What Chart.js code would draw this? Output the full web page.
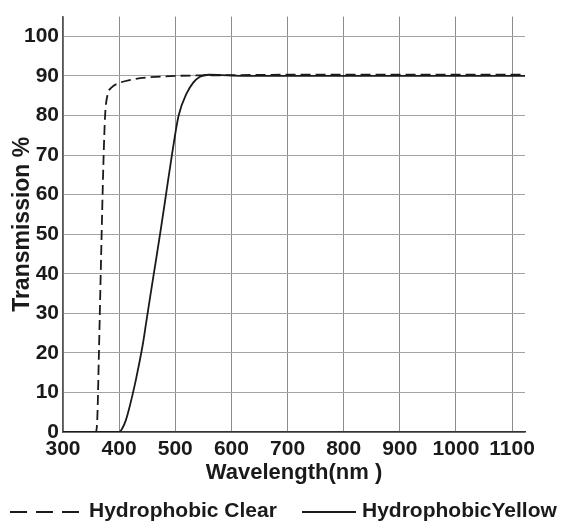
<!DOCTYPE html>
<html>
<head>
<meta charset="utf-8">
<title>Transmission</title>
<script src="https://cdn.jsdelivr.net/npm/chart.js@4.4.0/dist/chart.umd.min.js"></script>
<style>
    html, body { margin: 0; padding: 0; background: #fff; }
    #wrap { width: 566px; height: 523px; }
</style>
</head>
<body>
<div id="wrap"><canvas id="chart" width="566" height="523"></canvas></div>
<script>
// values (wavelength in nm, transmission in %)
const clearWavelength = [300, 358, 361, 364, 368, 372, 375, 379, 386, 400, 420, 450, 500, 600, 700, 900, 1123];
const clearTransmission = [0, 0, 3, 20, 45, 68, 80, 85, 87, 88.2, 89, 89.6, 90, 90.2, 90.3, 90.3, 90.3];

const yellowWavelength = [300, 400, 406, 412, 418, 424, 430, 436, 442, 448, 454, 464, 474, 484, 494, 506, 520, 532, 544, 560, 600, 700, 800, 900, 1000, 1123];
const yellowTransmission = [0, 0, 1, 3, 6, 9.5, 13.3, 17.5, 22, 27.5, 33, 42, 51, 60.5, 70, 80, 85.5, 88.3, 89.8, 90.3, 90.1, 90, 90, 90, 90, 90];

const xTicks = [300, 400, 500, 600, 700, 800, 900, 1000, 1100];
const yTicks = [0, 10, 20, 30, 40, 50, 60, 70, 80, 90, 100];

const FONT = "'Liberation Sans', Arial, sans-serif";
const INK = '#1a1a1a';

function toPoints(xs, ys) {
    return xs.map((x, i) => ({ x: x, y: ys[i] }));
}

// legend drawn under the axis title, dashed / solid line samples like the original
const lineLegend = {
    id: 'lineLegend',
    afterDraw(chart) {
        const ctx = chart.ctx;
        const y = 512;
        const slots = [
            { x1: 10, x2: 80, tx: 89 },
            { x1: 302, x2: 356, tx: 362 }
        ];
        ctx.save();
        chart.data.datasets.forEach((ds, i) => {
            const s = slots[i];
            ctx.strokeStyle = ds.borderColor;
            ctx.lineWidth = 2;
            ctx.setLineDash(i === 0 ? [17, 9] : []);
            ctx.beginPath();
            ctx.moveTo(s.x1, y);
            ctx.lineTo(s.x2, y);
            ctx.stroke();
            ctx.setLineDash([]);
            ctx.fillStyle = INK;
            ctx.font = 'bold 21px ' + FONT;
            ctx.textBaseline = 'middle';
            ctx.textAlign = 'left';
            ctx.fillText(ds.label, s.tx, y - 1);
        });
        ctx.restore();
    }
};

const ctx = document.getElementById('chart').getContext('2d');

new Chart(ctx, {
    type: 'line',
    data: {
        datasets: [{
            label: 'Hydrophobic Clear',
            data: toPoints(clearWavelength, clearTransmission),
            borderColor: INK,
            borderWidth: 1.8,
            borderDash: [10, 5],
            pointRadius: 0,
            cubicInterpolationMode: 'monotone',
            fill: false
        }, {
            label: 'HydrophobicYellow',
            data: toPoints(yellowWavelength, yellowTransmission),
            borderColor: INK,
            borderWidth: 1.8,
            pointRadius: 0,
            cubicInterpolationMode: 'monotone',
            fill: false
        }]
    },
    options: {
        responsive: false,
        animation: false,
        layout: {
            padding: { top: 13, right: 41, left: 0, bottom: 33 }
        },
        plugins: {
            legend: { display: false },
            tooltip: { enabled: false }
        },
        scales: {
            x: {
                type: 'linear',
                min: 300,
                max: 1123,
                afterBuildTicks: function(scale) {
                    scale.ticks = xTicks.map(v => ({ value: v }));
                },
                afterFit: function(scale) {
                    scale.height = 58;
                },
                grid: {
                    color: '#8c8c8c',
                    lineWidth: 1,
                    drawTicks: false
                },
                border: { color: '#333', width: 1.5 },
                ticks: {
                    padding: 5,
                    autoSkip: false,
                    minRotation: 0,
                    maxRotation: 0,
                    color: INK,
                    font: { family: FONT, size: 21, weight: 'bold' },
                    callback: function(value) {
                        return String(value);
                    }
                },
                title: {
                    display: true,
                    text: 'Wavelength(nm )',
                    color: INK,
                    padding: { top: 0, bottom: 4 },
                    font: { family: FONT, size: 22, weight: 'bold' }
                }
            },
            y: {
                min: 0,
                max: 105,
                afterBuildTicks: function(scale) {
                    scale.ticks = yTicks.map(v => ({ value: v }));
                },
                afterFit: function(scale) {
                    scale.width = 63;
                },
                grid: {
                    color: '#a3a3a3',
                    lineWidth: 1,
                    drawTicks: false
                },
                border: { color: '#555', width: 1.5 },
                ticks: {
                    padding: 4,
                    color: INK,
                    font: { family: FONT, size: 21, weight: 'bold' }
                },
                title: {
                    display: true,
                    text: 'Transmission %',
                    color: INK,
                    padding: { top: 9, bottom: 0 },
                    font: { family: FONT, size: 23, weight: 'bold' }
                }
            }
        }
    },
    plugins: [lineLegend]
});
</script>
</body>
</html>
